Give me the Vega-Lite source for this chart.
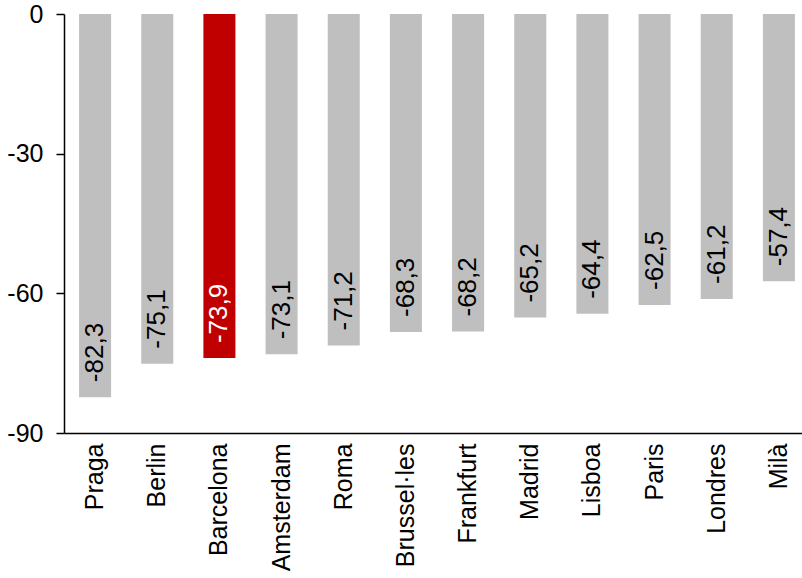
{
  "$schema": "https://vega.github.io/schema/vega-lite/v6.json",
  "width": 746,
  "height": 419,
  "autosize": "none",
  "padding": {"left": 64, "top": 14, "right": 0, "bottom": 145},
  "background": "white",
  "config": {
    "view": {"stroke": null},
    "font": "Liberation Sans",
    "axis": {
      "labelFont": "Liberation Sans",
      "labelFontSize": 25,
      "labelColor": "black",
      "domainColor": "black",
      "tickColor": "black",
      "grid": false,
      "title": null
    }
  },
  "data": {
    "values": [
      {"city": "Praga", "value": -82.3, "label": "-82,3", "highlight": "no"},
      {"city": "Berlin", "value": -75.1, "label": "-75,1", "highlight": "no"},
      {"city": "Barcelona", "value": -73.9, "label": "-73,9", "highlight": "yes"},
      {"city": "Amsterdam", "value": -73.1, "label": "-73,1", "highlight": "no"},
      {"city": "Roma", "value": -71.2, "label": "-71,2", "highlight": "no"},
      {"city": "Brussel·les", "value": -68.3, "label": "-68,3", "highlight": "no"},
      {"city": "Frankfurt", "value": -68.2, "label": "-68,2", "highlight": "no"},
      {"city": "Madrid", "value": -65.2, "label": "-65,2", "highlight": "no"},
      {"city": "Lisboa", "value": -64.4, "label": "-64,4", "highlight": "no"},
      {"city": "Paris", "value": -62.5, "label": "-62,5", "highlight": "no"},
      {"city": "Londres", "value": -61.2, "label": "-61,2", "highlight": "no"},
      {"city": "Milà", "value": -57.4, "label": "-57,4", "highlight": "no"}
    ]
  },
  "encoding": {
    "x": {
      "field": "city",
      "type": "nominal",
      "sort": null,
      "scale": {"paddingInner": 0.485, "paddingOuter": 0.2425},
      "axis": {
        "labelAngle": -90,
        "ticks": false,
        "labelPadding": 10,
        "domainWidth": 1.5
      }
    }
  },
  "layer": [
    {
      "mark": {"type": "bar"},
      "encoding": {
        "y": {
          "field": "value",
          "type": "quantitative",
          "scale": {"domain": [-90, 0], "nice": false},
          "axis": {
            "values": [0, -30, -60, -90],
            "labelExpr": "datum.value == 0 ? '0' : '-' + abs(datum.value)",
            "tickSize": 8,
            "tickWidth": 1.5,
            "domainWidth": 1.5,
            "labelPadding": 13
          }
        },
        "color": {
          "field": "highlight",
          "type": "nominal",
          "scale": {"domain": ["no", "yes"], "range": ["#bfbfbf", "#c00000"]},
          "legend": null
        }
      }
    },
    {
      "mark": {
        "type": "text",
        "angle": 270,
        "align": "left",
        "baseline": "middle",
        "dx": 15,
        "fontSize": 26
      },
      "encoding": {
        "y": {"field": "value", "type": "quantitative"},
        "text": {"field": "label"},
        "color": {
          "field": "highlight",
          "type": "nominal",
          "scale": {"domain": ["no", "yes"], "range": ["black", "white"]},
          "legend": null
        }
      }
    },
    {
      "mark": {"type": "rule", "color": "black", "strokeWidth": 2},
      "encoding": {"y": {"datum": 0}}
    }
  ],
  "resolve": {"scale": {"color": "independent"}}
}
